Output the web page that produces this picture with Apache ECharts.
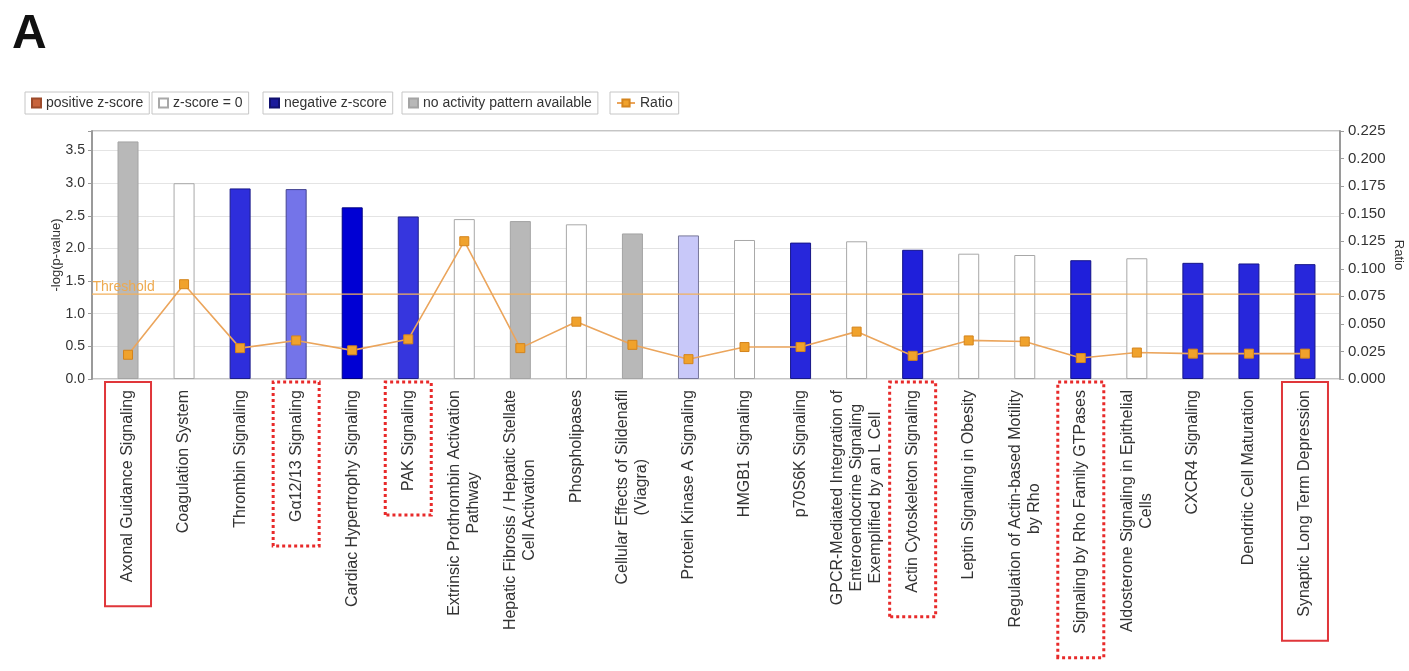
<!DOCTYPE html>
<html>
<head>
<meta charset="utf-8">
<title>Canonical pathways</title>
<script src="https://cdn.jsdelivr.net/npm/echarts@6/dist/echarts.min.js"></script>
<style>
  html, body { margin: 0; padding: 0; background: #ffffff; }
  #chart { width: 1409px; height: 671px; }
</style>
</head>
<body>
<div id="chart"></div>
<script>
// Canonical pathways, ordered by significance
const pathways = [
  'Axonal Guidance Signaling',
  'Coagulation System',
  'Thrombin Signaling',
  'Gα12/13 Signaling',
  'Cardiac Hypertrophy Signaling',
  'PAK Signaling',
  'Extrinsic Prothrombin Activation\nPathway',
  'Hepatic Fibrosis / Hepatic Stellate\nCell Activation',
  'Phospholipases',
  'Cellular Effects of Sildenafil\n(Viagra)',
  'Protein Kinase A Signaling',
  'HMGB1 Signaling',
  'p70S6K Signaling',
  'GPCR-Mediated Integration of\nEnteroendocrine Signaling\nExemplified by an L Cell',
  'Actin Cytoskeleton Signaling',
  'Leptin Signaling in Obesity',
  'Regulation of Actin-based Motility\nby Rho',
  'Signaling by Rho Family GTPases',
  'Aldosterone Signaling in Epithelial\nCells',
  'CXCR4 Signaling',
  'Dendritic Cell Maturation',
  'Synaptic Long Term Depression'
];

// -log(p-value) per pathway (left axis)
const negLogP = [3.64, 3.00, 2.92, 2.91, 2.63, 2.49, 2.45, 2.42, 2.37, 2.23, 2.20,
                 2.13, 2.09, 2.11, 1.98, 1.92, 1.90, 1.82, 1.85, 1.78, 1.77, 1.76];

// Ratio of molecules in the pathway (right axis)
const ratios = [0.022, 0.086, 0.028, 0.035, 0.026, 0.036, 0.125, 0.028, 0.052, 0.031, 0.018,
                0.029, 0.029, 0.043, 0.021, 0.035, 0.034, 0.019, 0.024, 0.023, 0.023, 0.023];

// Activation z-score (null = no activity pattern available)
const zScores = [null, 0, -2.4, -1.5, -3.0, -2.3, 0, null, 0, null, -0.4,
                 0, -2.5, 0, -2.6, 0, 0, -2.6, 0, -2.5, -2.5, -2.5];

const threshold = 1.3;

const leftTickStep = 0.5;
const leftMax = 3.8;
const rightTickStep = 0.025;
const rightMax = 0.225;

// Pathways called out with frames under the axis
const solidFramed = ['Axonal Guidance Signaling', 'Synaptic Long Term Depression'];
const dottedFramed = ['Gα12/13 Signaling', 'PAK Signaling', 'Actin Cytoskeleton Signaling',
                      'Signaling by Rho Family GTPases'];

const FONT = '"Liberation Sans", Arial, sans-serif';

// Blue shade deepens with the magnitude of a negative z-score
function shadeT(z) {
  return Math.max(0, Math.min(1, (Math.abs(z) - 0.3) / 2.7));
}
function blueFor(z) {
  const t = shadeT(z);
  const rg = Math.round(208 * (1 - t));
  const b = Math.round(250 - 38 * t);
  return 'rgb(' + rg + ',' + rg + ',' + b + ')';
}
function blueEdge(z) {
  const t = shadeT(z);
  const rg = Math.round(208 * (1 - t) * 0.6);
  const b = Math.round((250 - 38 * t) * 0.62);
  return 'rgb(' + rg + ',' + rg + ',' + b + ')';
}

function classOf(z) {
  if (z === null) return 'none';
  if (z === 0) return 'zero';
  return z > 0 ? 'pos' : 'neg';
}

function barData(cls) {
  return negLogP.map(function (v, i) {
    if (classOf(zScores[i]) !== cls) return null;
    if (cls === 'neg') {
      return { value: v, itemStyle: { color: blueFor(zScores[i]), borderColor: blueEdge(zScores[i]) } };
    }
    return v;
  });
}

function labelFormatter(name) {
  let style = 'c';
  if (solidFramed.indexOf(name) >= 0) style = 's';
  else if (dottedFramed.indexOf(name) >= 0) style = 'd';
  return name.split('\n').map(function (line) {
    return '{' + style + '|' + line + '}';
  }).join('\n');
}

const labelText = { fontSize: 16, lineHeight: 19, color: '#333', fontFamily: FONT, align: 'center' };

const chart = echarts.init(document.getElementById('chart'), null, { renderer: 'canvas' });

const barCommon = {
  type: 'bar',
  xAxisIndex: 1,
  yAxisIndex: 2,
  barWidth: 21,
  barGap: '-100%',
  z: 2
};

const legendBase = {
  top: 92,
  itemWidth: 9,
  itemHeight: 9,
  itemGap: 0,
  padding: [4, 6],
  borderColor: '#c6c6c6',
  borderWidth: 1,
  backgroundColor: '#ffffff',
  selectedMode: false,
  textStyle: { fontSize: 14, color: '#333', fontFamily: FONT }
};

chart.setOption({
  animation: false,
  backgroundColor: '#ffffff',
  textStyle: { fontFamily: FONT },
  title: {
    text: 'A',
    left: 7,
    top: 6,
    textStyle: { fontSize: 48, fontWeight: 'bold', color: '#111', fontFamily: FONT }
  },
  legend: [
    Object.assign({}, legendBase, { left: 25, icon: 'rect', data: ['positive z-score'] }),
    Object.assign({}, legendBase, { left: 152, icon: 'rect', data: ['z-score = 0'] }),
    Object.assign({}, legendBase, { left: 263, icon: 'rect', data: ['negative z-score'] }),
    Object.assign({}, legendBase, { left: 402, icon: 'rect', data: ['no activity pattern available'] }),
    Object.assign({}, legendBase, { left: 610, itemWidth: 18, data: ['Ratio'] })
  ],
  grid: [
    { left: 92, right: 69, top: 131, bottom: 292, show: true, borderColor: '#8a8a8a', borderWidth: 1,
      containLabel: false, outerBoundsMode: 'none' },
    { left: 100, right: 76, top: 131, bottom: 292, containLabel: false, outerBoundsMode: 'none' }
  ],
  xAxis: [
    { type: 'value', gridIndex: 0, min: 0, max: 1, show: false },
    {
      type: 'category',
      gridIndex: 1,
      data: pathways,
      axisLine: { show: false },
      axisTick: { show: false },
      axisLabel: {
        interval: 0,
        rotate: 90,
        margin: 3,
        hideOverlap: false,
        fontSize: 16,
        lineHeight: 19,
        color: '#333',
        fontFamily: FONT,
        formatter: labelFormatter,
        rich: {
          c: Object.assign({}, labelText, { padding: [0, 8, 0, 0] }),
          s: Object.assign({}, labelText, {
            padding: [15, 8, 15, 24], borderColor: '#e0363a', borderWidth: 2
          }),
          d: Object.assign({}, labelText, {
            padding: [15, 8, 15, 24], borderColor: '#e82a2a', borderWidth: 3, borderType: 'dotted'
          })
        }
      }
    }
  ],
  yAxis: [
    {
      type: 'value',
      gridIndex: 0,
      position: 'left',
      min: 0,
      max: leftMax,
      interval: leftTickStep,
      name: '-log(p-value)',
      nameLocation: 'middle',
      nameRotate: 90,
      nameGap: 29,
      nameMoveOverlap: false,
      nameTextStyle: { fontSize: 13, color: '#333', fontFamily: FONT },
      axisLine: { show: true, lineStyle: { color: '#9a9a9a', width: 2 } },
      axisTick: { show: true, length: 4, lineStyle: { color: '#9a9a9a' } },
      axisLabel: {
        fontSize: 14, color: '#333', margin: 7, fontFamily: FONT,
        formatter: function (v) { return v > leftMax - leftTickStep / 2 + 0.001 ? '' : v.toFixed(1); }
      },
      splitLine: { show: true, lineStyle: { color: '#e4e4e4', width: 1 } }
    },
    {
      type: 'value',
      gridIndex: 0,
      position: 'right',
      min: 0,
      max: rightMax,
      interval: rightTickStep,
      name: 'Ratio',
      nameLocation: 'middle',
      nameRotate: -90,
      nameGap: 52,
      nameMoveOverlap: false,
      nameTextStyle: { fontSize: 13, color: '#333', fontFamily: FONT },
      axisLine: { show: true, lineStyle: { color: '#9a9a9a', width: 2 } },
      axisTick: { show: true, length: 4, lineStyle: { color: '#9a9a9a' } },
      axisLabel: {
        fontSize: 15, color: '#333', margin: 8, fontFamily: FONT,
        formatter: function (v) { return v.toFixed(3); }
      },
      splitLine: { show: false }
    },
    { type: 'value', gridIndex: 1, min: 0, max: leftMax, show: false },
    { type: 'value', gridIndex: 1, min: 0, max: rightMax, show: false }
  ],
  series: [
    Object.assign({}, barCommon, {
      name: 'positive z-score',
      itemStyle: { color: '#c8643c', borderColor: '#9c4a2a', borderWidth: 1 },
      data: barData('pos')
    }),
    Object.assign({}, barCommon, {
      name: 'z-score = 0',
      itemStyle: { color: '#ffffff', borderColor: '#a8a8a8', borderWidth: 1 },
      data: barData('zero')
    }),
    Object.assign({}, barCommon, {
      name: 'negative z-score',
      itemStyle: { color: '#1a1a9c', borderColor: '#10106e', borderWidth: 1 },
      data: barData('neg')
    }),
    Object.assign({}, barCommon, {
      name: 'no activity pattern available',
      itemStyle: { color: '#b8b8b8', borderColor: '#a4a4a4', borderWidth: 1 },
      data: barData('none')
    }),
    {
      name: 'Threshold',
      type: 'line',
      xAxisIndex: 0,
      yAxisIndex: 0,
      z: 3,
      silent: true,
      symbol: 'circle',
      symbolSize: 1,
      itemStyle: { color: 'rgba(0,0,0,0)' },
      lineStyle: { color: '#f2b05c', width: 1.2 },
      data: [
        {
          value: [0, threshold],
          label: {
            show: true,
            formatter: 'Threshold',
            position: 'right',
            distance: 0,
            offset: [0, -7],
            fontSize: 14,
            color: '#eeaa50',
            fontFamily: FONT
          }
        },
        [1, threshold]
      ]
    },
    {
      name: 'Ratio',
      type: 'line',
      xAxisIndex: 1,
      yAxisIndex: 3,
      z: 4,
      symbol: 'rect',
      symbolSize: 9,
      itemStyle: { color: '#f0a22c', borderColor: '#d4841c', borderWidth: 1 },
      lineStyle: { color: '#eba55c', width: 1.6 },
      data: ratios
    }
  ]
});
</script>
</body>
</html>
